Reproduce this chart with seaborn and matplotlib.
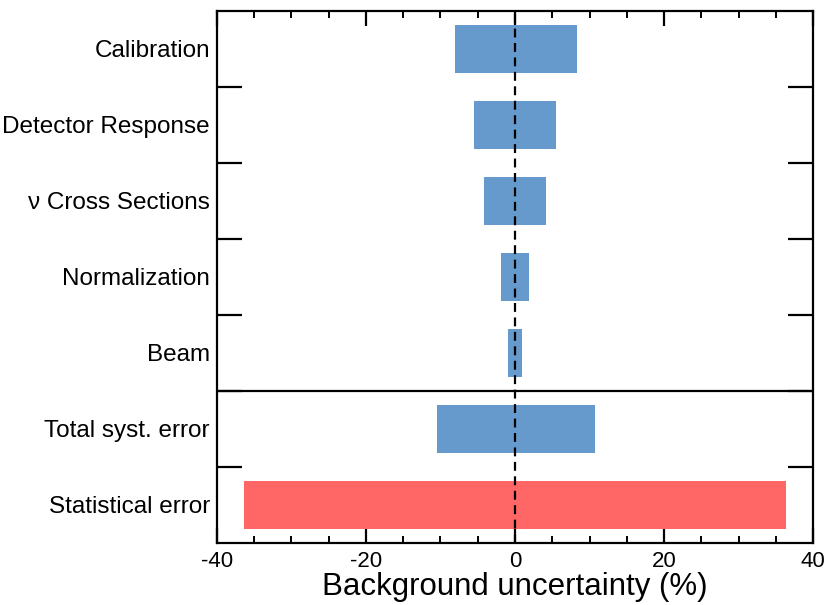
import numpy as np
import pandas as pd
import matplotlib
matplotlib.use('Agg')
import matplotlib.pyplot as plt
import seaborn as sns

# Values (percent)
categories = ['Calibration', 'Detector Response', '\u03bd Cross Sections', 'Normalization',
              'Beam', 'Total syst. error', 'Statistical error']
low = [-8.0, -5.5, -4.1, -1.9, -0.9, -10.4, -36.3]
high = [8.3, 5.5, 4.1, 1.9, 0.9, 10.8, 36.3]
bar_colors = ['#6699cc'] * 6 + ['#ff6666']

x_ticks = [-40, -20, 0, 20, 40]
x_label = 'Background uncertainty (%)'

df = pd.DataFrame({'source': categories, 'low': low, 'high': high})

sns.set_style('ticks')
plt.rcParams['font.family'] = ['Liberation Sans', 'DejaVu Sans']
for key in ['text.color', 'axes.labelcolor', 'xtick.color', 'ytick.color']:
    plt.rcParams[key] = 'black'

fig = plt.figure(figsize=(8.34, 6.05), dpi=100)
ax = fig.add_axes([0.260, 0.1025, 0.715, 0.8795])

palette = dict(zip(categories, bar_colors))
for col in ['low', 'high']:
    sns.barplot(data=df, x=col, y='source', hue='source', palette=palette,
                orient='h', width=0.63, linewidth=0, saturation=1,
                legend=False, ax=ax)

ax.axvline(0, color='black', linestyle=(0, (4, 2.5)), linewidth=1.6, zorder=5)
ax.axhline(4.5, color='black', linewidth=1.6, zorder=5)

ax.set_xlim(-40, 40)
ax.set_ylim(6.5, -0.5)
ax.set_xticks(x_ticks)
ax.set_xticklabels([str(t) for t in x_ticks])
ax.set_xticks(np.arange(-40, 41, 5), minor=True)
ax.set_yticks(range(len(categories)))
ax.set_yticklabels(categories)
ax.set_yticks(np.arange(0.5, 6, 1), minor=True)

ax.set_xlabel(x_label, fontsize=22.5, labelpad=0)
ax.set_ylabel('')

ax.tick_params(axis='x', which='major', direction='in', top=True, bottom=True,
               length=11, width=1.6, labelsize=16, pad=6)
ax.tick_params(axis='x', which='minor', direction='in', top=True, bottom=True,
               length=5, width=1.4)
ax.tick_params(axis='y', which='major', length=0, labelsize=17.5, pad=5)
ax.tick_params(axis='y', which='minor', direction='in', left=True, right=True,
               length=18, width=1.6)

for sp in ax.spines.values():
    sp.set_visible(True)
    sp.set_linewidth(1.6)
    sp.set_color('black')

fig.savefig('out.png', dpi=100)
